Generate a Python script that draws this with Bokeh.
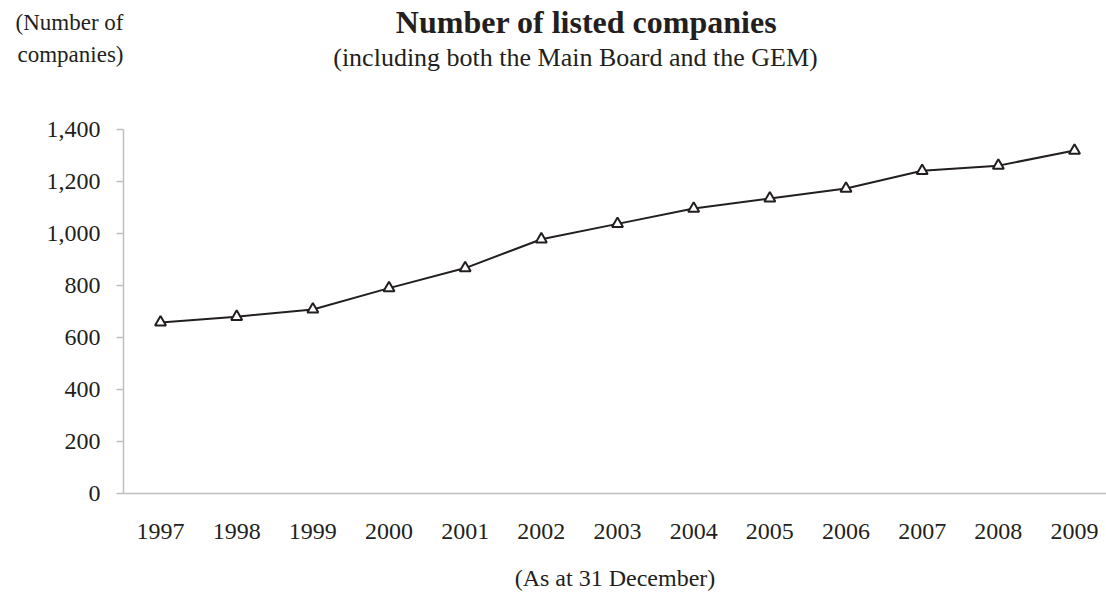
from bokeh.plotting import figure
from bokeh.layouts import column
from bokeh.models import Label, FixedTicker, NumeralTickFormatter, Range1d
from bokeh.embed import file_html
from bokeh.resources import INLINE

years = [1997, 1998, 1999, 2000, 2001, 2002, 2003, 2004, 2005, 2006, 2007, 2008, 2009]
companies = [658, 680, 708, 790, 867, 978, 1037, 1096, 1135, 1173, 1241, 1261, 1319]
y_ticks = [0, 200, 400, 600, 800, 1000, 1200, 1400]

title_text = "Number of listed companies"
subtitle_text = "(including both the Main Board and the GEM)"
unit_text = "(Number of\ncompanies)"
xlabel_text = "(As at 31 December)"

FONT = "Liberation Serif"
TXT = "#231f20"
TOP_H = 110
TOP_FRAME_H = 76

# --- header strip (title, subtitle, unit note) ---
top = figure(width=1106, height=TOP_H, output_backend="svg", toolbar_location=None,
             x_range=Range1d(123, 1106), y_range=Range1d(TOP_FRAME_H, 0),
             min_border_left=123, min_border_right=0, min_border_top=0,
             min_border_bottom=TOP_H - TOP_FRAME_H, x_axis_location=None)
top.outline_line_color = None
top.xgrid.visible = False
top.ygrid.visible = False
ya = top.yaxis[0]
ya.ticker = FixedTicker(ticks=[])
ya.axis_line_color = None
ya.major_tick_line_color = None
ya.minor_tick_line_color = None
ya.axis_label = unit_text
ya.axis_label_orientation = "horizontal"
ya.axis_label_text_font = FONT
ya.axis_label_text_font_size = "23px"
ya.axis_label_text_font_style = "normal"
ya.axis_label_text_color = TXT
ya.axis_label_text_line_height = 1.3
ya.axis_label_standoff = 0

top.add_layout(Label(x=586, y=21, text=title_text, text_font=FONT, text_font_size="32px",
                     text_font_style="bold", text_color=TXT,
                     text_align="center", text_baseline="middle"))
top.add_layout(Label(x=575, y=57, text=subtitle_text, text_font=FONT, text_font_size="26px",
                     text_color=TXT, text_align="center", text_baseline="middle"))

# --- main chart ---
p = figure(width=1106, height=596 - TOP_H, output_backend="svg", toolbar_location=None,
           x_range=Range1d(1996.514, 2009.42), y_range=Range1d(0, 1400),
           min_border_left=123, min_border_right=0, min_border_top=129 - TOP_H,
           min_border_bottom=103)
p.outline_line_color = None
p.xgrid.visible = False
p.ygrid.visible = False

p.line(years, companies, line_color=TXT, line_width=2)
p.scatter(years, companies, marker="triangle", size=11, fill_color="white",
          line_color=TXT, line_width=2)

for ax in (p.xaxis[0], p.yaxis[0]):
    ax.axis_line_color = "#bfbfbf"
    ax.axis_line_width = 1.5
    ax.major_label_text_font = FONT
    ax.major_label_text_font_size = "24px"
    ax.major_label_text_color = TXT
    ax.minor_tick_line_color = None

p.xaxis.ticker = FixedTicker(ticks=years)
p.xaxis.major_tick_line_color = None
p.xaxis.major_label_standoff = 24
p.xaxis.axis_label = xlabel_text
p.xaxis.axis_label_text_font = FONT
p.xaxis.axis_label_text_font_size = "24px"
p.xaxis.axis_label_text_font_style = "normal"
p.xaxis.axis_label_text_color = TXT
p.xaxis.axis_label_standoff = 23

p.yaxis.ticker = FixedTicker(ticks=y_ticks)
p.yaxis.formatter = NumeralTickFormatter(format="0,0")
p.yaxis.major_tick_line_color = "#bfbfbf"
p.yaxis.major_tick_line_width = 1.5
p.yaxis.major_tick_out = 7
p.yaxis.major_tick_in = 0
p.yaxis.major_label_standoff = 16

open("out.html", "w").write(file_html(column(top, p, spacing=0), INLINE))
